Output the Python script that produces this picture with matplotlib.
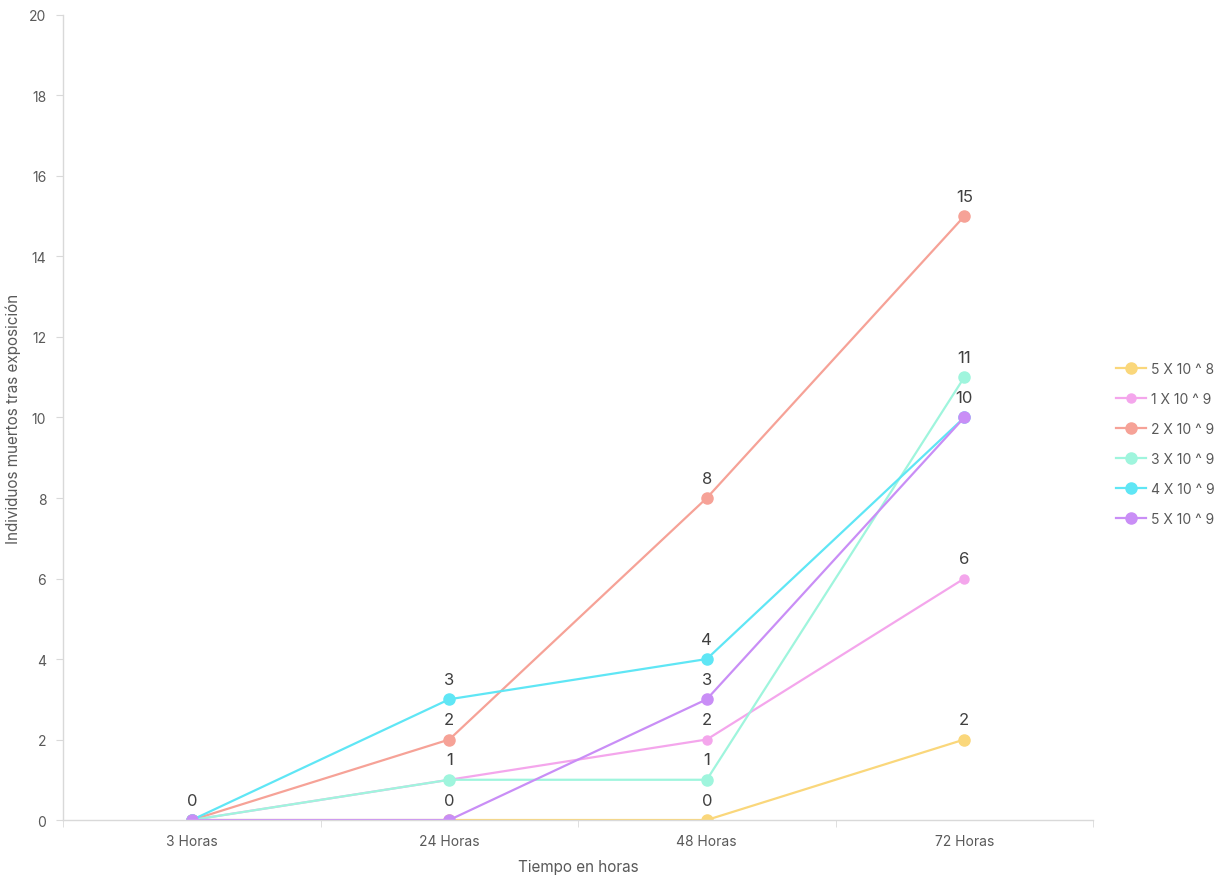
import matplotlib.pyplot as plt
import numpy as np

plt.rcParams['font.family'] = ['Inter', 'DejaVu Sans']

# Data
categorias = ['3 Horas', '24 Horas', '48 Horas', '72 Horas']
series = ['5 X 10 ^ 8', '1 X 10 ^ 9', '2 X 10 ^ 9', '3 X 10 ^ 9', '4 X 10 ^ 9', '5 X 10 ^ 9']
conc_5e8 = [0, 0, 0, 2]
conc_1e9 = [0, 1, 2, 6]
conc_2e9 = [0, 2, 8, 15]
conc_3e9 = [0, 1, 1, 11]
conc_4e9 = [0, 3, 4, 10]
conc_5e9 = [0, 0, 3, 10]
valores = [conc_5e8, conc_1e9, conc_2e9, conc_3e9, conc_4e9, conc_5e9]
colores = ['#FAD77B', '#F4A6EC', '#F6A297', '#9FF5DD', '#5FE6F5', '#C98EF6']
tam_marcador = [8, 6.5, 8, 8, 8, 8]

fig = plt.figure(figsize=(12.28, 8.78), dpi=100)
ax = fig.add_axes([0.0513, 0.0649, 0.8388, 0.9169])

x = np.arange(len(categorias))
ya = set()
for nombre, vals, col, ms in zip(series, valores, colores, tam_marcador):
    ax.plot(x, vals, color=col, lw=1.6, marker='o', ms=ms, label=nombre)
    for xi, v in zip(x, vals):
        # etiquetas superpuestas: solo una por punto
        if (xi, v) in ya:
            continue
        ya.add((xi, v))
        ax.annotate(str(v), (xi, v), xytext=(0, 9), textcoords='offset points',
                    ha='center', va='bottom', fontsize=12, color='#404040')

ax.set_xlim(-0.5, 3.5)
ax.set_ylim(0, 20)
ax.set_yticks(range(0, 21, 2))
ax.set_xticks(x)
ax.set_xticklabels(categorias)
ax.set_xticks(np.arange(-0.5, 3.6, 1), minor=True)
ax.tick_params(axis='x', which='major', length=0, pad=10, labelsize=10, labelcolor='#595959')
ax.tick_params(axis='x', which='minor', length=5, color='#d9d9d9')
ax.tick_params(axis='y', length=5, color='#d9d9d9', labelsize=10, labelcolor='#595959', pad=7)

for s in ['top', 'right']:
    ax.spines[s].set_visible(False)
for s in ['left', 'bottom']:
    ax.spines[s].set_color('#d9d9d9')
    ax.spines[s].set_linewidth(1)

ax.set_xlabel('Tiempo en horas', fontsize=11, color='#595959', labelpad=8)
ax.set_ylabel('Individuos muertos tras exposición', fontsize=11, color='#595959', labelpad=6)

ax.legend(loc='center left', bbox_to_anchor=(1.01, 0.467), frameon=False,
          fontsize=10, labelcolor='#595959', handlelength=2.2, handletextpad=0.3,
          labelspacing=1.15)

fig.savefig('out.png', dpi=100)
